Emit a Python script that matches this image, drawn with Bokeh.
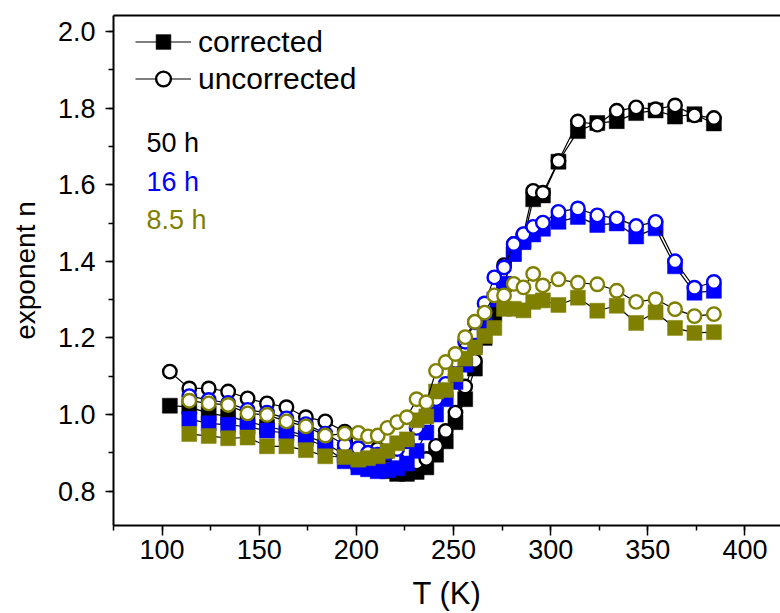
from bokeh.plotting import figure
from bokeh.models import (LinearAxis, SingleIntervalTicker, FixedTicker, Range1d, Legend,
                          LegendItem, Label, ColumnDataSource, PrintfTickFormatter)
from bokeh.embed import file_html
from bokeh.resources import INLINE

# ---------------- data ----------------
T_black = [104, 114, 124, 134, 144, 154, 164, 174, 184, 194,
           201, 206, 211, 216, 221, 226, 231, 236, 241, 246,
           251, 256, 261, 266, 271, 276, 281, 286, 291, 296,
           304, 314, 324, 334, 344, 354, 364, 374, 384]
T_other = T_black[1:]

n50_corr = [1.023, 1.020, 1.003, 0.995, 0.982, 0.968, 0.958, 0.945, 0.925, 0.895,
            0.875, 0.865, 0.858, 0.852, 0.845, 0.845, 0.850, 0.862, 0.895, 0.930,
            0.980, 1.040, 1.120, 1.200, 1.263, 1.340, 1.420, 1.455, 1.562, 1.572,
            1.660, 1.740, 1.761, 1.766, 1.787, 1.794, 1.778, 1.784, 1.760]
n50_unc = [1.112, 1.068, 1.068, 1.060, 1.042, 1.029, 1.019, 0.993, 0.982, 0.955,
           0.935, 0.920, 0.910, 0.895, 0.882, 0.868, 0.875, 0.884, 0.918, 0.957,
           1.005, 1.073, 1.140, 1.235, 1.300, 1.390, 1.445, 1.470, 1.584, 1.579,
           1.662, 1.765, 1.757, 1.793, 1.802, 1.797, 1.807, 1.781, 1.774]
n16_corr = [0.988, 0.977, 0.973, 0.968, 0.958, 0.951, 0.938, 0.915, 0.878,
            0.862, 0.857, 0.852, 0.855, 0.860, 0.872, 0.905, 0.953, 1.000, 1.040,
            1.085, 1.130, 1.180, 1.238, 1.300, 1.341, 1.419, 1.450, 1.470, 1.485,
            1.503, 1.516, 1.495, 1.499, 1.465, 1.486, 1.387, 1.318, 1.323]
n16_unc = [1.048, 1.038, 1.030, 1.012, 1.005, 0.990, 0.975, 0.950, 0.921,
           0.912, 0.900, 0.895, 0.900, 0.910, 0.930, 0.965, 1.000, 1.040, 1.080,
           1.140, 1.190, 1.241, 1.290, 1.358, 1.384, 1.445, 1.471, 1.490, 1.501,
           1.529, 1.538, 1.520, 1.512, 1.492, 1.503, 1.400, 1.331, 1.346]
n85_corr = [0.949, 0.944, 0.938, 0.940, 0.917, 0.917, 0.907, 0.891, 0.889,
            0.882, 0.886, 0.891, 0.905, 0.925, 0.935, 0.985, 0.995, 1.060, 1.064,
            1.105, 1.146, 1.175, 1.205, 1.226, 1.276, 1.276, 1.272, 1.294, 1.298,
            1.286, 1.305, 1.271, 1.284, 1.239, 1.267, 1.226, 1.213, 1.215]
n85_unc = [1.036, 1.029, 1.025, 1.003, 0.999, 0.982, 0.969, 0.945, 0.950,
           0.952, 0.943, 0.945, 0.965, 0.980, 0.993, 1.040, 1.032, 1.114, 1.137,
           1.158, 1.202, 1.242, 1.266, 1.311, 1.311, 1.341, 1.332, 1.367, 1.337,
           1.353, 1.344, 1.340, 1.323, 1.294, 1.301, 1.275, 1.257, 1.262]

series_labels = ["50 h", "16 h", "8.5 h"]
series_colors = ["#000000", "#0000ff", "#808000"]
legend_labels = ["corrected", "uncorrected"]

x_ticks_major = 50
y_ticks_major = 0.2

FONT = "Liberation Sans"

# ---------------- figure ----------------
p = figure(width=780, height=613, output_backend="svg", toolbar_location=None,
           x_range=Range1d(75, 75 + 667 / 1.943), y_range=Range1d(0.7102, 2.0418),
           min_border_left=113, min_border_right=0, min_border_top=15, min_border_bottom=82,
           x_axis_label="T (K)", y_axis_label="exponent n")
p.outline_line_color = None
p.background_fill_color = "white"
p.border_fill_color = "white"
p.xgrid.visible = False
p.ygrid.visible = False

xa = p.xaxis[0]
xa.ticker = SingleIntervalTicker(interval=x_ticks_major, num_minor_ticks=2)
ya = p.yaxis[0]
ya.ticker = SingleIntervalTicker(interval=y_ticks_major, num_minor_ticks=2)
ya.formatter = PrintfTickFormatter(format="%.1f")
for ax in (xa, ya):
    ax.axis_line_width = 2
    ax.major_tick_line_width = 1.5
    ax.minor_tick_line_width = 1.5
    ax.major_tick_in = 0
    ax.minor_tick_in = 0
    ax.major_label_text_font = FONT
    ax.major_label_text_font_size = "27px"
    ax.major_label_text_color = "black"
    ax.axis_label_text_font = FONT
    ax.axis_label_text_font_style = "normal"
    ax.axis_label_text_color = "black"
xa.major_tick_out = 10
xa.minor_tick_out = 5
xa.major_label_standoff = 4
xa.axis_label_standoff = 14
xa.axis_label_text_font_size = "31px"
ya.major_tick_out = 8
ya.minor_tick_out = 5
ya.major_label_standoff = 10
ya.axis_label_standoff = 14
ya.axis_label_text_font_size = "28px"

top = LinearAxis(ticker=FixedTicker(ticks=[]), axis_line_width=2,
                 major_tick_out=0, minor_tick_out=0)
p.add_layout(top, "above")

# ---------------- data series ----------------
data = [
    (T_black, n50_corr, n50_unc, series_colors[0]),
    (T_other, n16_corr, n16_unc, series_colors[1]),
    (T_other, n85_corr, n85_unc, series_colors[2]),
]
rends = []
for T, nc, nu, col in data:
    sc = ColumnDataSource(dict(x=T, y=nc))
    su = ColumnDataSource(dict(x=T, y=nu))
    lc = p.line("x", "y", source=sc, line_color="black", line_width=1.2)
    mc = p.scatter("x", "y", source=sc, marker="square", size=15,
                   fill_color=col, line_color=col, line_width=0.5)
    lu = p.line("x", "y", source=su, line_color="black", line_width=1.2)
    mu = p.scatter("x", "y", source=su, marker="circle", size=13.5,
                   fill_color="white", line_color=col, line_width=2.4)
    rends.append((lc, mc, lu, mu))

# ---------------- legend ----------------
lc0, mc0, lu0, mu0 = rends[0]
legend = Legend(items=[LegendItem(label=legend_labels[0], renderers=[lc0, mc0]),
                       LegendItem(label=legend_labels[1], renderers=[lu0, mu0])],
                location=(22, 428), orientation="vertical",
                glyph_width=56, glyph_height=37, spacing=0, padding=0, margin=0,
                label_standoff=7, label_text_font=FONT, label_text_font_size="30px",
                label_text_color="black", label_height=37,
                background_fill_alpha=0, border_line_color=None)
p.add_layout(legend)

# ---------------- series text labels ----------------
label_y = [1.709, 1.606, 1.508]
for txt, col, yy in zip(series_labels, series_colors, label_y):
    p.add_layout(Label(x=92.0, y=yy, text=txt, text_color=col, text_font=FONT,
                       text_font_size="27px", text_baseline="middle", text_align="left"))

open("out.html", "w").write(file_html(p, INLINE))
